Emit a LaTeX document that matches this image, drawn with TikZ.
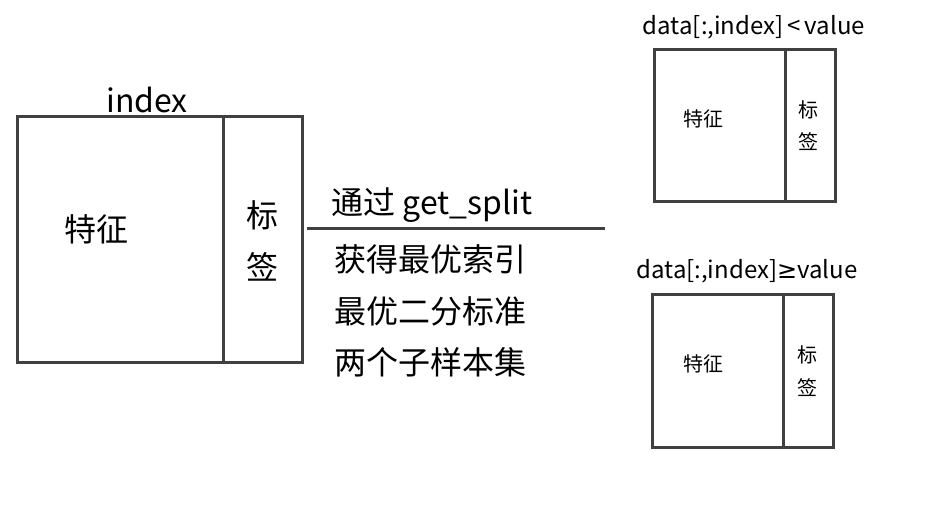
\documentclass[tikz,border=0pt]{standalone}
\usepackage{fontspec}
\setmainfont{Noto Sans CJK SC}
\newfontfamily\symfont{DejaVu Sans}
\definecolor{boxgray}{HTML}{404040}
\tikzstyle{part}=[draw=boxgray,line width=3pt,inner sep=0pt]
\tikzstyle{big}=[font=\fontsize{32}{36}\selectfont]
\tikzstyle{small}=[font=\fontsize{20}{24}\selectfont]
\tikzstyle{title}=[font=\fontsize{24}{28}\selectfont]

\begin{document}
\begin{tikzpicture}[x=1pt,y=-1pt]
\useasboundingbox (0,0) rectangle (935,529);
% whole data set
\node[part,minimum width=206pt,minimum height=246pt] at (120,240) (feat) {};
\node[part,minimum width=79pt,minimum height=246pt] at (262.5,240) (lab) {};
\node[big] at (147,100) (idx) {index};
\node[big] at (96,229) (tf) {特征};
\node[big] at (262,215) (tb) {标};
\node[big] at (262,267) (tq) {签};

% split step
\coordinate (l1) at (307,229);
\coordinate (l2) at (605,229);
\draw[boxgray,line width=3pt] (l1) -- (l2);
\node[big,anchor=west] at (328,205) (s0) {通过 get\_split};
\node[big,anchor=west] at (331,259) (s1) {获得最优索引};
\node[big,anchor=west] at (331,311) (s2) {最优二分标准};
\node[big,anchor=west] at (331,362) (s3) {两个子样本集};

% left subset
\node[part,minimum width=131pt,minimum height=152pt] at (719.5,126) (lfeat) {};
\node[part,minimum width=50pt,minimum height=152pt] at (810,126) (llab) {};
\node[title] at (754,27) (lcap) {data[:,index]\,<\,value};
\node[small] at (703,119) (lf) {特征};
\node[small] at (808,110) (lb) {标};
\node[small] at (808,142) (lq) {签};

% right subset
\node[part,minimum width=131pt,minimum height=152pt] at (717.5,371) (rfeat) {};
\node[part,minimum width=50pt,minimum height=152pt] at (808,371) (rlab) {};
\node[title] at (747,271) (rcap) {data[:,index]{\symfont ≥}value};
\node[small] at (703,364) (rf) {特征};
\node[small] at (807,355) (rb) {标};
\node[small] at (807,388) (rq) {签};
\end{tikzpicture}
\end{document}
